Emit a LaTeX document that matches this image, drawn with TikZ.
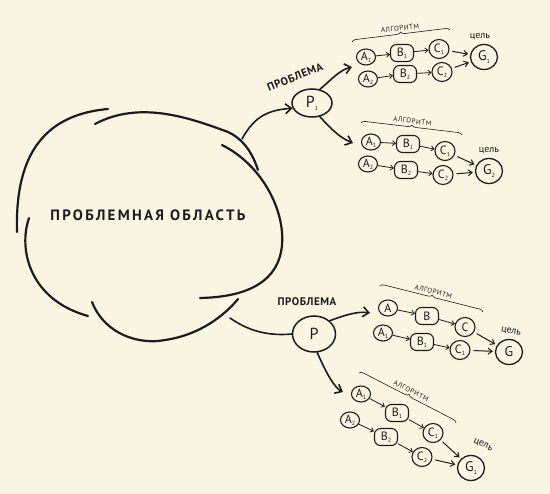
\documentclass[tikz,border=0pt]{standalone}
\usepackage{fontspec}
\setmainfont{PT Sans}
\usetikzlibrary{shapes.geometric,arrows.meta,decorations.pathreplacing}
\definecolor{paper}{RGB}{248,246,227}
\definecolor{ink}{RGB}{28,28,28}
\newcommand{\lowsub}[1]{\raisebox{-0.4ex}{\fontsize{6}{6}\selectfont #1}}
\tikzset{
  nodebase/.style={draw=ink, line width=1.1pt, inner sep=0pt, text=ink, font=\fontsize{12}{12}\selectfont},
  stepA/.style={nodebase, ellipse, minimum width=19pt, minimum height=16pt},
  stepB/.style={nodebase, rectangle, rounded corners=6pt, minimum width=23pt, minimum height=17pt},
  stepC/.style={nodebase, ellipse, minimum width=20pt, minimum height=19pt},
  goal/.style={nodebase, ellipse, line width=1.3pt, minimum width=27pt, minimum height=25pt, font=\fontsize{14}{14}\selectfont},
  prob/.style={nodebase, ellipse, line width=1.5pt, font=\fontsize{16}{16}\selectfont},
  flow/.style={draw=ink, line width=0.8pt, -{Straight Barb[length=3pt,width=5pt]}},
  goalflow/.style={flow, line width=1pt, shorten <=3pt, shorten >=2pt, -{Straight Barb[length=4pt,width=6pt]}},
  bigflow/.style={draw=ink, line width=1.6pt, line cap=round, -{Straight Barb[length=6pt,width=10pt]}},
  cloudline/.style={draw=ink, line width=2.2pt, line cap=round},
  algbrace/.style={draw=ink, line width=0.6pt, decorate, decoration={brace, amplitude=4pt}},
  algtext/.style={font=\fontsize{7}{7}\selectfont\addfontfeatures{LetterSpace=8}, text=ink, inner sep=1pt},
  goaltext/.style={font=\fontsize{10}{10}\selectfont, text=ink, inner sep=0pt},
  probtext/.style={font=\fontsize{11}{11}\bfseries\selectfont\addfontfeatures{LetterSpace=5}, text=ink, inner sep=0pt}
}
\begin{document}
\begin{tikzpicture}[x=1pt,y=-1pt]
\fill[paper] (0,0) rectangle (550,494);
\useasboundingbox (0,0) rectangle (550,494);

% cloud (problem domain)
\draw[cloudline] (108,109) .. controls (40,115) and (15,160) .. (17,232);
\draw[cloudline] (95,124) .. controls (140,100) and (190,118) .. (228,132) .. controls (245,140) and (253,155) .. (258,170);
\draw[cloudline] (222,145) .. controls (262,165) and (285,210) .. (282,245) .. controls (279,280) and (250,297) .. (200,298);
\draw[cloudline] (29,218) .. controls (18,250) and (30,300) .. (88,316);
\draw[cloudline] (92,302) .. controls (105,335) and (140,345) .. (165,340) .. controls (200,335) and (225,315) .. (238,299);
\node[font=\fontsize{15}{15}\bfseries\selectfont\addfontfeatures{LetterSpace=15}, text=ink] (domain) at (148,215) {ПРОБЛЕМНАЯ ОБЛАСТЬ};
\coordinate (cloudUp) at (242,139);
\coordinate (cloudDown) at (230,318);

% problems
\node[prob, minimum width=40pt, minimum height=28pt] (P1) at (312,103) {P\lowsub{1}};
\node[probtext, rotate=22] (pt1) at (295,77) {ПРОБЛЕМА};
\node[prob, minimum width=43pt, minimum height=36pt] (P2) at (314,334) {P};
\node[probtext] (pt2) at (307,302) {ПРОБЛЕМА};

\draw[bigflow] (cloudUp) .. controls (255,115) and (270,110) .. (P1.195);
\draw[cloudline, line width=1.6pt] (cloudDown) .. controls (250,332) and (270,336) .. (P2.west);

\coordinate (in1) at (352,67);
\coordinate (in2) at (353,143);
\coordinate (in3) at (370,313);
\coordinate (in4) at (343,392);
\draw[bigflow] (P1.60) .. controls (333,78) and (340,70) .. (in1);
\draw[bigflow] (P1.-60) .. controls (330,128) and (340,138) .. (in2);
\draw[bigflow] (P2.40) .. controls (345,315) and (358,311) .. (in3);
\draw[bigflow] (P2.-80) .. controls (327,375) and (335,388) .. (in4);

% group 1
\node[stepA] (a11) at (366,57) {A\lowsub{1}};
\node[stepB] (b11) at (402,53) {B\lowsub{1}};
\node[stepC] (c11) at (439,49) {C\lowsub{1}};
\node[stepA] (a12) at (368,79) {A\lowsub{2}};
\node[stepB] (b12) at (405,74) {B\lowsub{2}};
\node[stepC] (c12) at (442,72) {C\lowsub{2}};
\node[goal] (G1) at (484,57) {G\lowsub{1}};
\node[goaltext] (gt1) at (480,37) {цель};
\coordinate (br1l) at (352,42);
\coordinate (br1r) at (450,30);
\draw[algbrace] (br1l) -- node[algtext, midway, sloped, above=4pt] (alg1) {АЛГОРИТМ} (br1r);
\draw[flow] (a11) -- (b11); \draw[flow] (b11) -- (c11);
\draw[flow] (a12) -- (b12); \draw[flow] (b12) -- (c12);
\draw[goalflow] (c11) -- (G1); \draw[goalflow] (c12) -- (G1);

% group 2
\node[stepA] (a21) at (371,142) {A\lowsub{1}};
\node[stepB] (b21) at (408,144) {B\lowsub{1}};
\node[stepC] (c21) at (445,151) {C\lowsub{1}};
\node[stepA] (a22) at (368,164) {A\lowsub{2}};
\node[stepB] (b22) at (406,170) {B\lowsub{2}};
\node[stepC] (c22) at (443,175) {C\lowsub{2}};
\node[goal] (G2) at (489,171) {G\lowsub{2}};
\node[goaltext] (gt2) at (489,151) {цель};
\coordinate (br2l) at (361,123);
\coordinate (br2r) at (462,135);
\draw[algbrace] (br2l) -- node[algtext, midway, sloped, above=4pt] (alg2) {АЛГОРИТМ} (br2r);
\draw[flow] (a21) -- (b21); \draw[flow] (b21) -- (c21);
\draw[flow] (a22) -- (b22); \draw[flow] (b22) -- (c22);
\draw[goalflow] (c21) -- (G2); \draw[goalflow] (c22) -- (G2);

% group 3
\node[stepA] (a31) at (388,308) {A};
\node[stepB] (b31) at (427,316) {B};
\node[stepC] (c31) at (465,327) {C};
\node[stepA] (a32) at (383,333) {A\lowsub{1}};
\node[stepB] (b32) at (422,342) {B\lowsub{1}};
\node[stepC] (c32) at (460,350) {C\lowsub{1}};
\node[goal] (G3) at (509,352) {G};
\node[goaltext, rotate=-12] (gt3) at (511,332) {цель};
\coordinate (br3l) at (380,286);
\coordinate (br3r) at (483,312);
\draw[algbrace] (br3l) -- node[algtext, midway, sloped, above=4pt] (alg3) {АЛГОРИТМ} (br3r);
\draw[flow] (a31) -- (b31); \draw[flow] (b31) -- (c31);
\draw[flow] (a32) -- (b32); \draw[flow] (b32) -- (c32);
\draw[goalflow] (c31) -- (G3); \draw[goalflow] (c32) -- (G3);

% group 4
\node[stepA] (a41) at (361,394) {A\lowsub{1}};
\node[stepB] (b41) at (397,413) {B\lowsub{1}};
\node[stepC] (c41) at (433,433) {C\lowsub{1}};
\node[stepA] (a42) at (350,420) {A\lowsub{2}};
\node[stepB] (b42) at (386,437) {B\lowsub{2}};
\node[stepC] (c42) at (422,457) {C\lowsub{2}};
\node[goal] (G4) at (471,468) {G\lowsub{1}};
\node[goaltext, rotate=-25] (gt4) at (483,445) {цель};
\coordinate (br4l) at (359,373);
\coordinate (br4r) at (456,423);
\draw[algbrace] (br4l) -- node[algtext, midway, sloped, above=4pt] (alg4) {АЛГОРИТМ} (br4r);
\draw[flow] (a41) -- (b41); \draw[flow] (b41) -- (c41);
\draw[flow] (a42) -- (b42); \draw[flow] (b42) -- (c42);
\draw[goalflow] (c41) -- (G4); \draw[goalflow] (c42) -- (G4);
\end{tikzpicture}
\end{document}
